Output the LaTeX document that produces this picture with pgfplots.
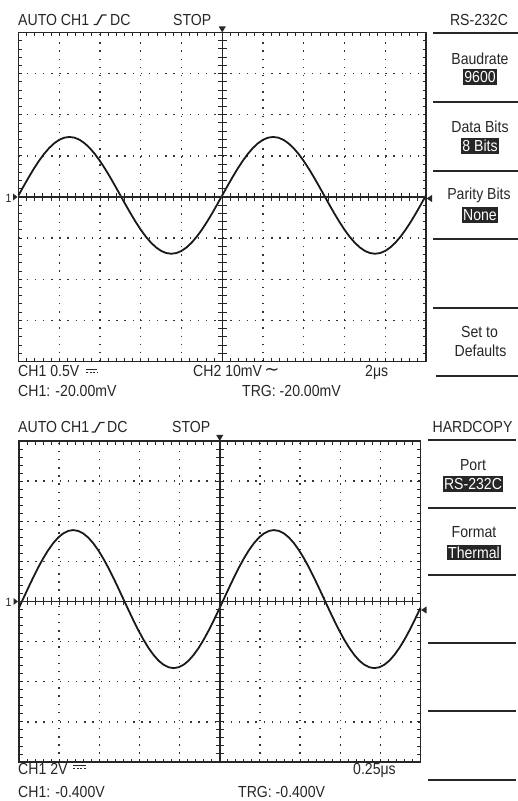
\documentclass[border=0pt]{standalone}
\usepackage{pgfplots}
\pgfplotsset{compat=1.18}
\usepackage{pgfplotstable}
\usepackage{fontspec}
\setmainfont{Liberation Sans}[FakeStretch=0.88]
\newfontfamily\dv{DejaVu Sans}
\definecolor{ink}{gray}{0.15}

\pgfplotstableread{
x y
-5 0.04
-4.875 0.262
-4.75 0.479
-4.625 0.685
-4.5 0.875
-4.375 1.044
-4.25 1.189
-4.125 1.305
-4 1.391
-3.875 1.443
-3.75 1.46
-3.625 1.443
-3.5 1.391
-3.375 1.305
-3.25 1.189
-3.125 1.044
-3 0.875
-2.875 0.685
-2.75 0.479
-2.625 0.262
-2.5 0.04
-2.375 -0.182
-2.25 -0.399
-2.125 -0.605
-2 -0.795
-1.875 -0.964
-1.75 -1.109
-1.625 -1.225
-1.5 -1.311
-1.375 -1.363
-1.25 -1.38
-1.125 -1.363
-1 -1.311
-0.875 -1.225
-0.75 -1.109
-0.625 -0.964
-0.5 -0.795
-0.375 -0.605
-0.25 -0.399
-0.125 -0.182
0 0.04
0.125 0.262
0.25 0.479
0.375 0.685
0.5 0.875
0.625 1.044
0.75 1.189
0.875 1.305
1 1.391
1.125 1.443
1.25 1.46
1.375 1.443
1.5 1.391
1.625 1.305
1.75 1.189
1.875 1.044
2 0.875
2.125 0.685
2.25 0.479
2.375 0.262
2.5 0.04
2.625 -0.182
2.75 -0.399
2.875 -0.605
3 -0.795
3.125 -0.964
3.25 -1.109
3.375 -1.225
3.5 -1.311
3.625 -1.363
3.75 -1.38
3.875 -1.363
4 -1.311
4.125 -1.225
4.25 -1.109
4.375 -0.964
4.5 -0.795
4.625 -0.605
4.75 -0.399
4.875 -0.182
5 0.04
}\topwave

\pgfplotstableread{
x y
-5 -0.156
-4.9 0.06
-4.775 0.329
-4.65 0.591
-4.525 0.841
-4.4 1.071
-4.275 1.276
-4.15 1.451
-4.025 1.593
-3.9 1.696
-3.775 1.759
-3.65 1.78
-3.525 1.759
-3.4 1.696
-3.275 1.593
-3.15 1.451
-3.025 1.276
-2.9 1.071
-2.775 0.841
-2.65 0.591
-2.525 0.329
-2.4 0.06
-2.275 -0.209
-2.15 -0.471
-2.025 -0.721
-1.9 -0.951
-1.775 -1.156
-1.65 -1.331
-1.525 -1.473
-1.4 -1.576
-1.275 -1.639
-1.15 -1.66
-1.025 -1.639
-0.9 -1.576
-0.775 -1.473
-0.65 -1.331
-0.525 -1.156
-0.4 -0.951
-0.275 -0.721
-0.15 -0.471
-0.025 -0.209
0.1 0.06
0.225 0.329
0.35 0.591
0.475 0.841
0.6 1.071
0.725 1.276
0.85 1.451
0.975 1.593
1.1 1.696
1.225 1.759
1.35 1.78
1.475 1.759
1.6 1.696
1.725 1.593
1.85 1.451
1.975 1.276
2.1 1.071
2.225 0.841
2.35 0.591
2.475 0.329
2.6 0.06
2.725 -0.209
2.85 -0.471
2.975 -0.721
3.1 -0.951
3.225 -1.156
3.35 -1.331
3.475 -1.473
3.6 -1.576
3.725 -1.639
3.85 -1.66
3.975 -1.639
4.1 -1.576
4.225 -1.473
4.35 -1.331
4.475 -1.156
4.6 -0.951
4.725 -0.721
4.85 -0.471
4.975 -0.209
5 -0.156
}\botwave

\pgfplotsset{scopeaxis/.style={
  scale only axis, xmin=-5, xmax=5, ymin=-4, ymax=4,
  xtick={-5,...,5}, ytick={-4,...,4},
  minor x tick num=4, minor y tick num=4,
  xticklabels={}, yticklabels={},
  tick align=inside, major tick length=3.5pt, minor tick length=3.5pt,
  tick style={line width=0.9pt, color=ink},
  axis line style={line width=1.8pt, color=ink},
  grid=major,
  major grid style={line width=1.4pt, color=black!80, dash pattern=on 1.4pt off 6.75pt},
  clip=false,
}}

\begin{document}
\begin{tikzpicture}[font=\fontsize{16}{18}\selectfont, color=ink]
\useasboundingbox (0,0) rectangle (518pt,801pt);

% ---------- top scope ----------
\begin{axis}[scopeaxis, at={(18.5pt,439.5pt)}, anchor=south west, width=407.5pt, height=329pt]
\addplot[line width=1.8pt, black!90, mark=none] table {\topwave};
\end{axis}

% ---------- bottom scope ----------
\begin{axis}[scopeaxis, at={(19pt,39pt)}, anchor=south west, width=401.5pt, height=321pt]
\addplot[line width=1.8pt, black!90, mark=none] table {\botwave};
\end{axis}

\begin{scope}[x=1pt, y=1pt]
% center crosses, top
\draw[line width=1.5pt] (18.5,604)--(426,604);
\draw[line width=1.5pt] (222.25,439.5)--(222.25,768.5);
\foreach \i in {1,...,49} \draw[line width=1pt] ({18.5+\i*8.15},600) -- ++(0,8);
\foreach \j in {1,...,39} \draw[line width=1pt] (218,{439.5+\j*8.225}) -- ++(8.5,0);
% center crosses, bottom
\draw[line width=1.5pt] (19,199.5)--(420.5,199.5);
\draw[line width=1.5pt] (219.75,39)--(219.75,360);
\foreach \i in {1,...,49} \draw[line width=1pt] ({19+\i*8.03},195.5) -- ++(0,8);
\foreach \j in {1,...,39} \draw[line width=1pt] (215.5,{39+\j*8.025}) -- ++(8.5,0);

% markers
\fill (218.75,774.5)--(225.75,774.5)--(222.25,768.5)--cycle;
\fill (216.25,366)--(223.25,366)--(219.75,360)--cycle;
\fill (426.5,602.5)--(432,599)--(432,606)--cycle;
\fill (421,191)--(426.5,187.5)--(426.5,194.5)--cycle;
\fill (17.5,604)--(13,600.5)--(13,607.5)--cycle;
\fill (18,199.5)--(13.5,196)--(13.5,203)--cycle;
\node[anchor=base, inner sep=0pt, font=\fontsize{12}{12}\selectfont] at (8.5,598.5) {1};
\node[anchor=base, inner sep=0pt, font=\fontsize{12}{12}\selectfont] at (8.5,194) {1};

% headers
\node[anchor=base west, inner sep=0pt] at (18,775.5) {AUTO CH1};
\draw[line width=1.3pt] (93.5,776.5)--(97,776.5)--(102,786)--(106.5,786);
\node[anchor=base west, inner sep=0pt] at (110,775.5) {DC};
\node[anchor=base west, inner sep=0pt] at (173,775.5) {STOP};
\node[anchor=base, inner sep=0pt] at (479,775.5) {RS-232C};

\node[anchor=base west, inner sep=0pt] at (18,368) {AUTO CH1};
\draw[line width=1.3pt] (91.5,369)--(95,369)--(100,378.5)--(104.5,378.5);
\node[anchor=base west, inner sep=0pt] at (107,368) {DC};
\node[anchor=base west, inner sep=0pt] at (172,368) {STOP};
\node[anchor=base, inner sep=0pt] at (472.5,368) {HARDCOPY};

% footers top
\node[anchor=base west, inner sep=0pt] at (18,424) {CH1 0.5V};
\draw[line width=1pt] (86,431.5)--(97,431.5);
\draw[line width=1pt, dash pattern=on 2pt off 1.5pt] (86,428.5)--(97,428.5);
\node[anchor=base west, inner sep=0pt] at (193,424) {CH2 10mV};
\node[inner sep=0pt, font=\fontsize{18}{18}\selectfont] at (272,429) {\dv ∼};
\node[anchor=base west, inner sep=0pt] at (365,424) {2μs};
\node[anchor=base west, inner sep=0pt] at (18,404) {CH1: -20.00mV};
\node[anchor=base west, inner sep=0pt] at (242,404) {TRG: -20.00mV};

% footers bottom
\node[anchor=base west, inner sep=0pt] at (18,27) {CH1 2V};
\draw[line width=1pt] (73,35.5)--(86,35.5);
\draw[line width=1pt, dash pattern=on 2pt off 1.5pt] (73,32.5)--(86,32.5);
\node[anchor=base west, inner sep=0pt] at (353,27) {0.25μs};
\node[anchor=base west, inner sep=0pt] at (18,3) {CH1: -0.400V};
\node[anchor=base west, inner sep=0pt] at (238,3) {TRG: -0.400V};

% top menu
\foreach \yy in {768,699,630,562,493} \draw[line width=1.6pt] (433,\yy)--(518,\yy);
\draw[line width=1.6pt] (436,425)--(518,425);
\tikzset{hl/.style={fill=ink, text=white, inner xsep=1.5pt, inner ysep=0pt, minimum height=15.5pt, anchor=center}}
\node[anchor=base, inner sep=0pt] at (480,736.5) {Baudrate};
\node[hl] at (480,724) {9600};
\node[anchor=base, inner sep=0pt] at (480,668) {Data Bits};
\node[hl] at (480,655) {8 Bits};
\node[anchor=base, inner sep=0pt] at (479,601) {Parity Bits};
\node[hl] at (480,586) {None};
\node[anchor=base, inner sep=0pt] at (479.5,463) {Set to};
\node[anchor=base, inner sep=0pt] at (480.5,444) {Defaults};

% bottom menu
\foreach \yy in {361,293,226,158,90,21} \draw[line width=1.6pt] (428,\yy)--(516,\yy);
\node[anchor=base, inner sep=0pt] at (473,330) {Port};
\node[hl] at (473,317) {RS-232C};
\node[anchor=base, inner sep=0pt] at (474,263) {Format};
\node[hl] at (474,248.5) {Thermal};
\end{scope}
\end{tikzpicture}
\end{document}
